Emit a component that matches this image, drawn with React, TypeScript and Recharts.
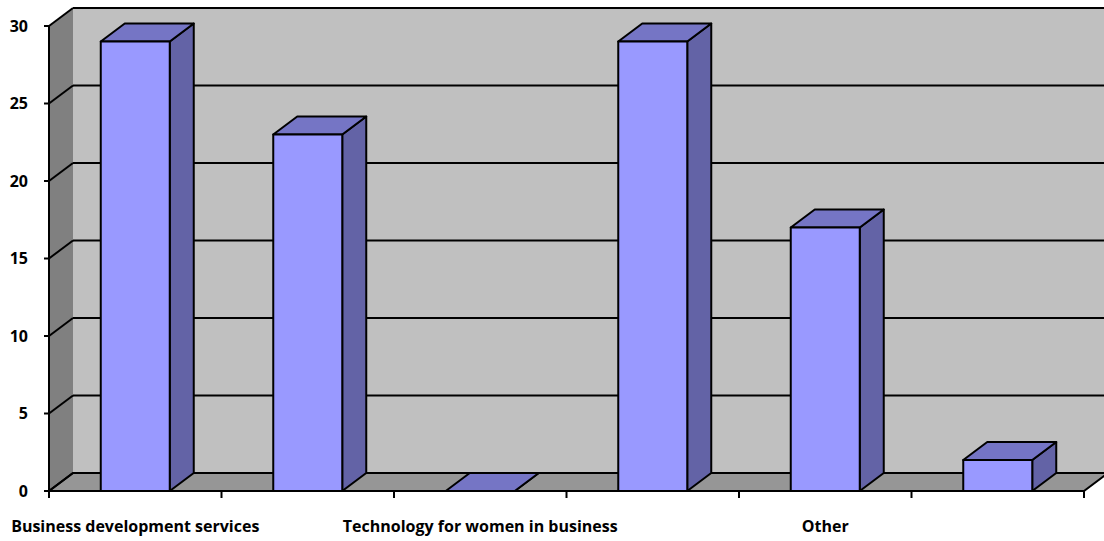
import React from 'react';
import { BarChart, Bar, XAxis, YAxis, CartesianGrid, ReferenceArea } from 'recharts';

// categories (only every second one is labelled in the picture)
const categories = [
  'Business development services',
  'Access to finance',
  'Technology for women in business',
  'Training and skills',
  'Other',
  'None',
];
const responses = [29, 23, 0, 29, 17, 2];
const yTicks = [0, 5, 10, 15, 20, 25, 30];

const chartData = categories.map((name, i) => ({ name, value: responses[i] }));

// depth of the fake 3D box
const DX = 24;
const DY = 18;
const fontFamily = '"Open Sans", Lato, sans-serif';
const font = { fontFamily, fontWeight: 700, fontSize: 16, fill: '#000' };

const Walls = (props: any) => {
  const { x, y, width, height } = props;
  const bottom = y + height;
  return (
    <g>
      <polygon
        points={`${x},${bottom} ${x + DX},${bottom - DY} ${x + DX},${y - DY} ${x},${y}`}
        fill="#808080"
      />
      <rect x={x + DX} y={y - DY} width={width + 2} height={height} fill="#C0C0C0" />
      <polygon
        points={`${x},${bottom} ${x + width},${bottom} ${x + width + DX},${bottom - DY} ${x + DX},${bottom - DY}`}
        fill="#969696"
        stroke="#000"
        strokeWidth={2}
      />
    </g>
  );
};

const GridLine = (props: any) => {
  const { x1, y1, x2, index } = props;
  return (
    <g key={`grid-${index}`}>
      <line x1={x1} y1={y1} x2={x1 + DX} y2={y1 - DY} stroke="#000" strokeWidth={2} />
      <line x1={x1 + DX} y1={y1 - DY} x2={x2 + DX + 2} y2={y1 - DY} stroke="#000" strokeWidth={2} />
    </g>
  );
};

const Box = (props: any) => {
  const { x, y, width, height } = props;
  const h = Math.max(height || 0, 0);
  return (
    <g stroke="#000" strokeWidth={2} strokeLinejoin="round">
      <polygon
        points={`${x + width},${y} ${x + width + DX},${y - DY} ${x + width + DX},${y + h - DY} ${x + width},${y + h}`}
        fill="#6363A6"
      />
      <polygon
        points={`${x},${y} ${x + DX},${y - DY} ${x + width + DX},${y - DY} ${x + width},${y}`}
        fill="#7575C5"
      />
      {h > 0 && <rect x={x} y={y} width={width} height={h} fill="#9999FF" />}
    </g>
  );
};

// tick marks sit on the category boundaries, labels on every second category
const CategoryTick = (props: any) => {
  const { x, y, payload, visibleTicksCount } = props;
  const half = payload.offset ?? 0;
  const idx = payload.index;
  const last = visibleTicksCount ? idx === visibleTicksCount - 1 : idx === categories.length - 1;
  return (
    <g>
      <line x1={x - half} y1={y} x2={x - half} y2={y + 7} stroke="#000" strokeWidth={2} />
      {last && <line x1={x + half} y1={y} x2={x + half} y2={y + 7} stroke="#000" strokeWidth={2} />}
      {idx % 2 === 0 && (
        <text x={x} y={y + 41} textAnchor="middle" {...font}>
          {payload.value}
        </text>
      )}
    </g>
  );
};

export default function App() {
  return (
    <div style={{ position: 'absolute', left: 0, top: 0, background: '#fff' }}>
      <BarChart
        width={1104}
        height={541}
        data={chartData}
        margin={{ top: 26, right: 20, bottom: 0, left: 0 }}
        barCategoryGap="30%"
      >
        <XAxis
          dataKey="name"
          height={50}
          axisLine={{ stroke: '#000', strokeWidth: 2 }}
          tickLine={false}
          tickSize={0}
          tickMargin={0}
          interval={0}
          tick={CategoryTick}
        />
        <YAxis
          type="number"
          domain={[0, 30]}
          ticks={yTicks}
          width={49}
          axisLine={{ stroke: '#000', strokeWidth: 2 }}
          tickLine={{ stroke: '#000', strokeWidth: 2 }}
          tickSize={5}
          tickMargin={16}
          tick={font}
        />
        <ReferenceArea y1={0} y2={30} ifOverflow="visible" zIndex={-200} shape={Walls} />
        <CartesianGrid vertical={false} horizontal={GridLine} />
        <Bar dataKey="value" isAnimationActive={false} shape={Box} />
      </BarChart>
    </div>
  );
}
